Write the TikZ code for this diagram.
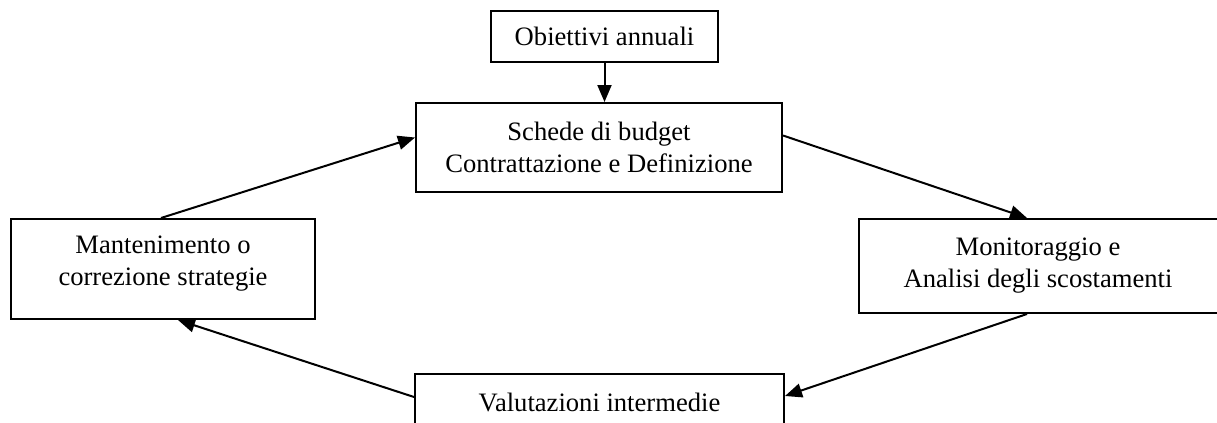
\documentclass[tikz,border=0pt]{standalone}
\usepackage{fontspec}
\setmainfont{Liberation Serif}
\usetikzlibrary{arrows.meta}
\tikzset{
  box/.style={draw, line width=1pt, rectangle, inner sep=0pt, align=center,
    font=\fontsize{13.3}{16}\selectfont},
  txt/.style={inner sep=0pt, align=center, font=\fontsize{13.3}{16}\selectfont},
  arr/.style={line width=1pt, -{Triangle[length=8.5pt,width=7pt]}}
}
\begin{document}
\begin{tikzpicture}[x=0.5pt,y=-0.5pt]
\useasboundingbox (0,0) rectangle (1217,423);
\clip (0,0) rectangle (1217,423);
\node[box, minimum width=113.5pt, minimum height=25.5pt] (obj) at (604.5,36.5) {Obiettivi annuali};
\node[box, minimum width=183pt, minimum height=44.5pt] (sched) at (599,147.5) {Schede di budget\\Contrattazione e Definizione};
\node[box, minimum width=152pt, minimum height=50pt] (mant) at (163,269) {};
\node[txt] (manttxt) at ([yshift=2.5pt]mant.center) {Mantenimento o\\correzione strategie};
\node[box, minimum width=182pt, minimum height=47pt] (mon) at (1041,266) {};
\node[txt] (montxt) at ([xshift=-1.5pt]mon.center) {Monitoraggio e\\Analisi degli scostamenti};
\node[box, minimum width=184.5pt, minimum height=28pt] (val) at (599.5,402) {Valutazioni intermedie};
\draw[arr] (obj.south) -- (obj.south |- sched.north);
\draw[arr] ([xshift=-1pt]mant.north) -- ([yshift=5pt]sched.west);
\draw[arr] ([yshift=6pt]sched.east) -- ([xshift=-7pt]mon.north);
\draw[arr] ([xshift=-7pt]mon.south) -- ([yshift=3pt]val.east);
\draw[arr] ([yshift=2.5pt]val.west) -- ([xshift=7.5pt]mant.south);
\end{tikzpicture}
\end{document}
